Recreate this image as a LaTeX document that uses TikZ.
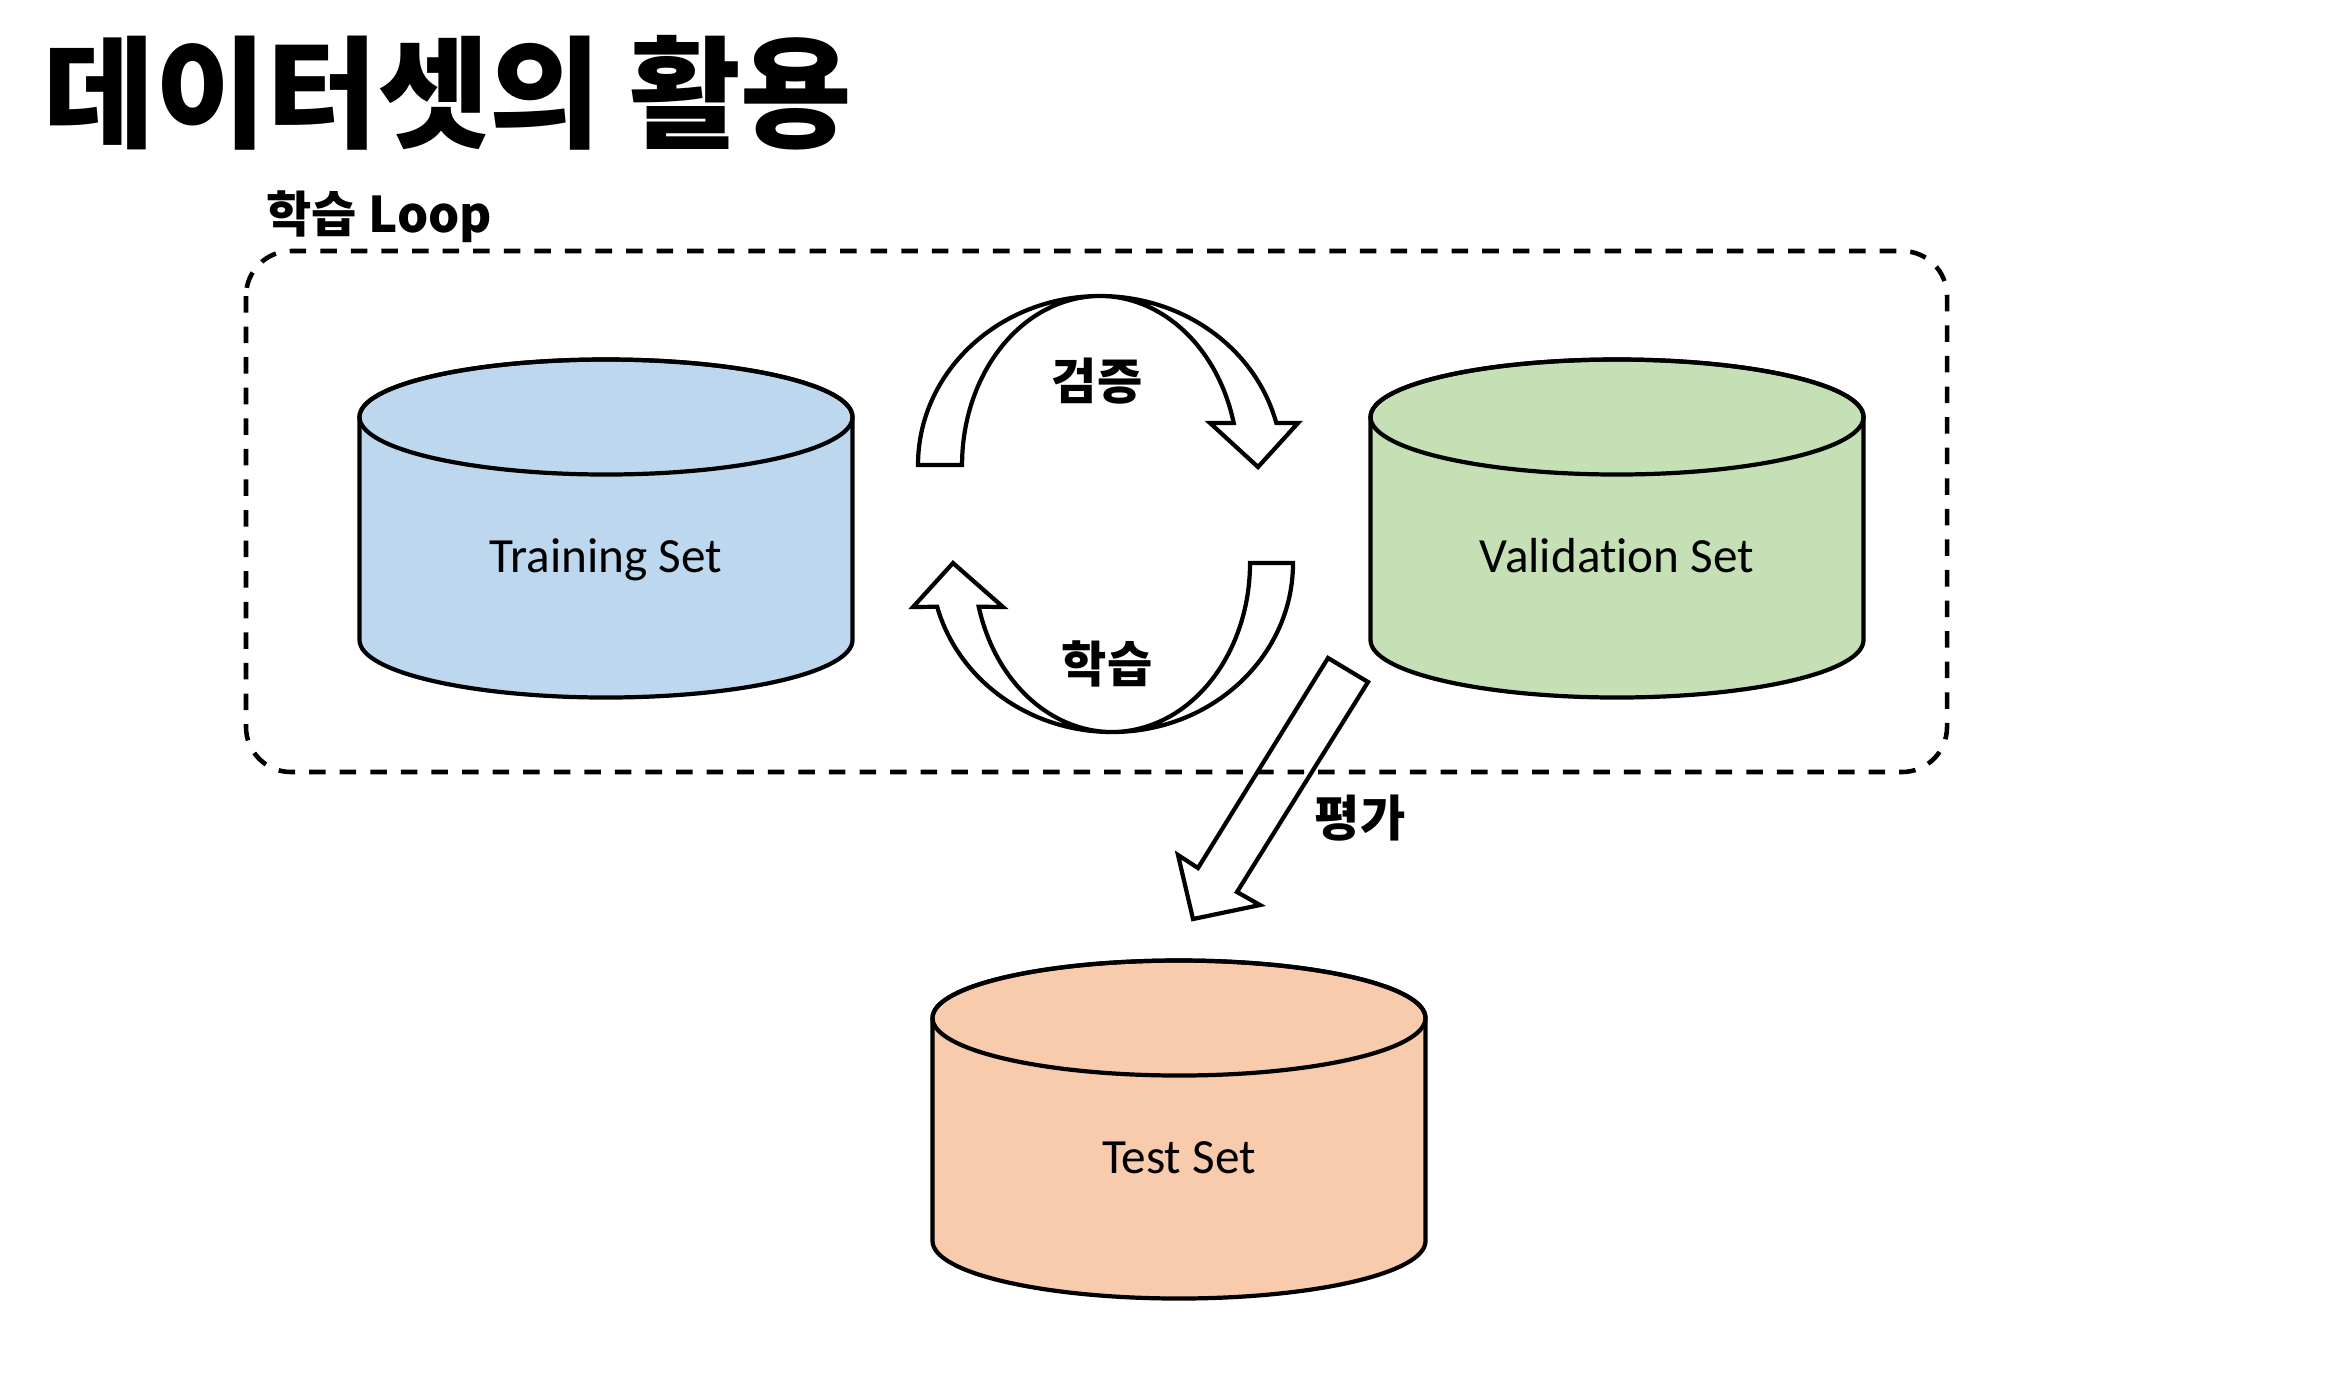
\documentclass[tikz,border=0pt]{standalone}
\usepackage{fontspec}
\setmainfont{Carlito}[Ligatures=NoCommon]
\newfontfamily\krfont{Noto Sans CJK KR}
\usetikzlibrary{positioning}

\definecolor{trainblue}{HTML}{BDD7EE}
\definecolor{validgreen}{HTML}{C5E0B4}
\definecolor{testorange}{HTML}{F8CBAD}

\begin{document}
\begin{tikzpicture}
    % Define styles
    \tikzstyle{heading} = [font=\krfont\bfseries\fontsize{34.5}{38}\selectfont, inner sep=0pt]
    \tikzstyle{tag} = [font=\krfont\bfseries\fontsize{14}{16}\selectfont, inner sep=0pt]
    \tikzstyle{setlabel} = [font=\fontsize{14}{16}\selectfont, inner sep=0pt, anchor=base]
    \tikzstyle{db} = [draw, line width=1.2pt]
    \tikzstyle{blockarrow} = [draw, line width=1.2pt, line join=miter]
    \tikzstyle{loopbox} = [draw, line width=1.3pt, dash pattern=on 4.7pt off 4pt, rounded corners=0.45cm]

    \useasboundingbox (0,0) rectangle (23.45,-13.85);

    % Title
    \node[heading, anchor=west] (title) at (0.43,-0.93) {데이터셋의 활용};

    % Loop area
    \draw[loopbox] (2.46,-2.51) rectangle (19.47,-7.72);
    \node[tag, anchor=base west] (looplabel) at (2.66,-2.32) {학습 Loop};

    % Data sets
    \foreach \nm/\cx/\cy/\col/\txt in {train/6.06/-4.17/trainblue/Training Set,
                                      valid/16.17/-4.17/validgreen/Validation Set,
                                      test/11.79/-10.18/testorange/Test Set}{
        \draw[db, fill=\col] (\cx-2.465,\cy) -- ++(0,-2.23)
            arc[start angle=180, end angle=360, x radius=2.465, y radius=0.575]
            -- ++(0,2.23)
            arc[start angle=0, end angle=180, x radius=2.465, y radius=0.575] -- cycle;
        \draw[db] (\cx,\cy) ellipse[x radius=2.465, y radius=0.575];
        \node[setlabel] (\nm) at (\cx,\cy-1.55) {\txt};
    }

    % Arrows
    \draw[blockarrow] (9.18,-4.65)
        arc[start angle=180, end angle=14.4, x radius=1.82, y radius=1.69]
        -- (12.98,-4.23) -- (12.58,-4.67) -- (12.10,-4.23) -- (12.337,-4.23)
        arc[start angle=14.4, end angle=180, x radius=1.38, y radius=1.69] -- cycle;
    \draw[blockarrow] (12.93,-5.63)
        arc[start angle=0, end angle=-165, x radius=1.81, y radius=1.69]
        -- (9.13,-6.07) -- (9.53,-5.63) -- (10.03,-6.07) -- (9.787,-6.067)
        arc[start angle=-165, end angle=0, x radius=1.38, y radius=1.69] -- cycle;
    \draw[blockarrow] (13.28,-6.58) -- (11.98,-8.68) -- (11.78,-8.55) -- (11.93,-9.19)
        -- (12.60,-9.05) -- (12.37,-8.92) -- (13.68,-6.82) -- cycle;

    % Labels
    \node[tag] (verify) at (10.97,-3.81) {검증};
    \node[tag] (learn) at (11.07,-6.64) {학습};
    \node[tag] (evaluate) at (13.60,-8.18) {평가};
\end{tikzpicture}
\end{document}
